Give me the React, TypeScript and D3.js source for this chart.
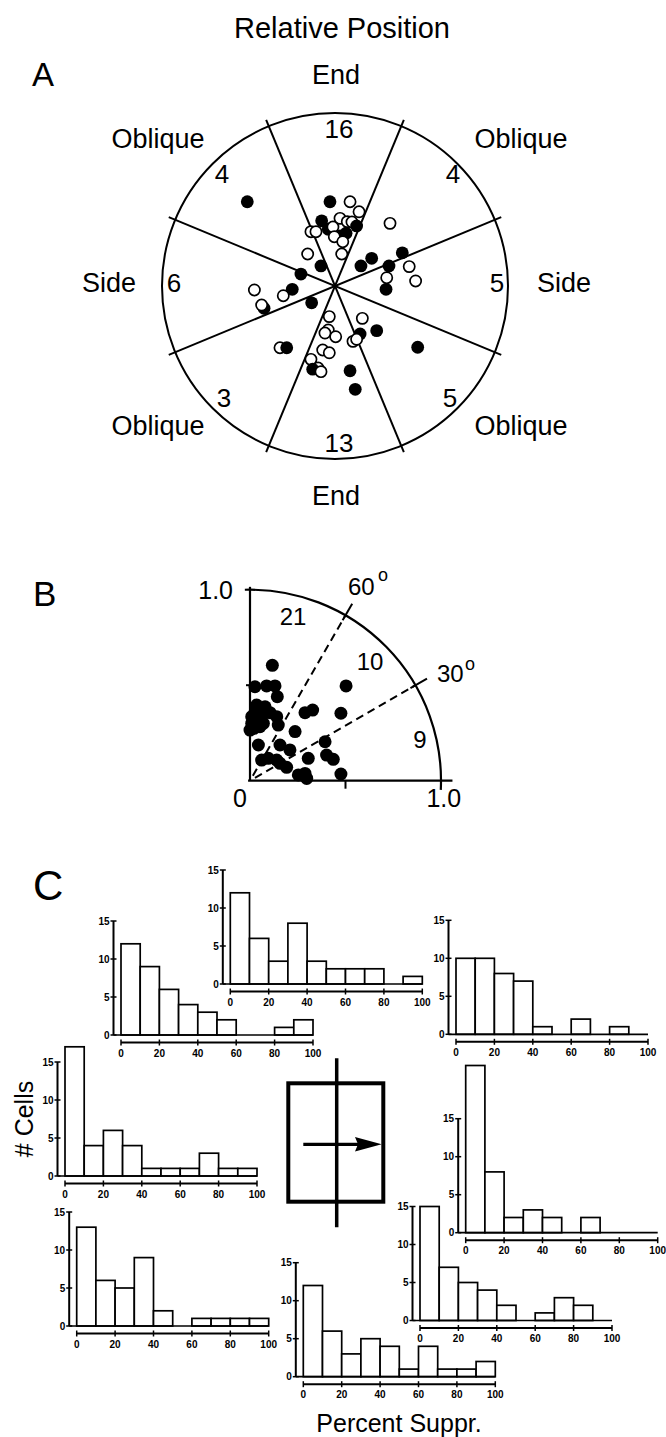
import * as d3 from 'd3'

const FONT = '"Liberation Sans", Arial, Helvetica, sans-serif'

// ---- Panel A: relative position ----
// sectors clockwise from the top
const sectorNames = ['End', 'Oblique', 'Side', 'Oblique', 'End', 'Oblique', 'Side', 'Oblique']
const sectorCounts = [16, 4, 5, 5, 13, 3, 6, 4]
const dividerAngles = [22.5, 67.5, 112.5, 157.5]

// [x, y, filled] in units of the circle radius, y up
const pointsA: [number, number, number][] = [
  [-0.507, 0.487, 1], [-0.029, 0.487, 1], [0.087, 0.487, 0], [0.139, 0.429, 0],
  [-0.077, 0.377, 1], [0.029, 0.391, 0], [0.071, 0.372, 0], [0.098, 0.37, 0],
  [-0.039, 0.328, 1], [0.125, 0.347, 1], [-0.012, 0.341, 0], [0.064, 0.305, 1],
  [-0.139, 0.314, 0], [-0.11, 0.314, 0], [0.029, 0.289, 1], [-0.004, 0.285, 0],
  [0.045, 0.256, 0], [0.039, 0.185, 0], [-0.158, 0.185, 0], [-0.081, 0.116, 1],
  [0.318, 0.362, 0], [0.15, 0.116, 1], [0.212, 0.16, 1], [0.312, 0.116, 1],
  [0.389, 0.192, 1], [0.429, 0.112, 0], [0.466, 0.029, 0], [0.299, 0.048, 0],
  [0.295, -0.019, 1], [-0.197, 0.069, 1], [-0.247, -0.019, 1], [-0.466, -0.023, 0],
  [-0.299, -0.056, 0], [-0.41, -0.129, 1], [-0.424, -0.11, 0], [-0.135, -0.097, 1],
  [-0.318, -0.357, 0], [-0.279, -0.357, 1], [-0.033, -0.177, 0], [-0.039, -0.254, 0],
  [-0.058, -0.272, 0], [0.004, -0.293, 0], [0.158, -0.187, 0], [0.145, -0.277, 1],
  [0.104, -0.32, 0], [0.125, -0.308, 0], [0.241, -0.258, 1], [0.478, -0.354, 1],
  [-0.071, -0.37, 0], [-0.033, -0.386, 0], [-0.139, -0.424, 0], [-0.098, -0.474, 0],
  [-0.129, -0.481, 1], [-0.081, -0.495, 0], [0.087, -0.49, 1], [0.117, -0.597, 1],
]

// ---- Panel B ----
const pointsB: [number, number][] = [
  [0.117, 0.604], [0.503, 0.496], [0.026, 0.492], [0.087, 0.496], [0.131, 0.496],
  [0.143, 0.44], [0.035, 0.396], [0.079, 0.387], [0.105, 0.356], [0.288, 0.356],
  [0.328, 0.37], [0.476, 0.353], [0.009, 0.3], [0.035, 0.318], [0.052, 0.283],
  [0.14, 0.335], [0.148, 0.291], [0.236, 0.257], [0.044, 0.187], [0.157, 0.187],
  [0.209, 0.161], [0.393, 0.204], [0.061, 0.108], [0.096, 0.117], [0.14, 0.108],
  [0.157, 0.091], [0.192, 0.07], [0.305, 0.117], [0.401, 0.134], [0.436, 0.112],
  [0.253, 0.03], [0.288, 0.038], [0.297, 0.012], [0.476, 0.035], [0.021, 0.274],
  [0.009, 0.335], [0.061, 0.335], [0.026, 0.361], [0.0, 0.265], [0.07, 0.3],
]
const wedgeAngles = [30, 60]
const wedgeCounts = [9, 10, 21]

// ---- Panel C: histograms, counts per 10% bin ----
const histTopLeft = [12, 9, 6, 4, 3, 2, 0, 0, 1, 2]
const histTopMid = [12, 6, 3, 8, 3, 2, 2, 2, 0, 1]
const histTopRight = [10, 10, 8, 7, 1, 0, 2, 0, 1, 0]
const histMidLeft = [17, 4, 6, 4, 1, 1, 1, 3, 1, 1]
const histMidRight = [22, 8, 2, 3, 2, 0, 2, 0, 0, 0]
const histLowLeft = [13, 6, 5, 9, 2, 0, 1, 1, 1, 1]
const histLowRight = [15, 7, 5, 4, 2, 0, 1, 3, 2, 0]
const histBottom = [12, 6, 3, 5, 4, 1, 4, 1, 1, 2]

// layout
const A_CX = 335, A_CY = 286, A_R = 173
const nameXY = [[336, 84], [521, 148], [564, 292], [521, 435], [336, 505], [158, 435], [109, 292], [158, 148]]
const countXY = [[339, 138], [453, 183], [497, 292], [450, 407], [339, 452], [224, 407], [174, 292], [222, 183]]

const B_X0 = 250, B_Y0 = 780.7, B_U = 191

const HIST_W = 192, HIST_H = 114
const histLayout: [number[], number, number][] = [
  [histTopLeft, 121, 1035],
  [histTopMid, 230.3, 984],
  [histTopRight, 456, 1034.3],
  [histMidLeft, 65, 1176],
  [histMidRight, 465.7, 1232.7],
  [histLowLeft, 76.7, 1326],
  [histLowRight, 420, 1320.5],
  [histBottom, 303.3, 1376.7],
]

function Histogram({ counts, x0, y0 }: { counts: number[]; x0: number; y0: number }) {
  const x = d3.scaleLinear().domain([0, 100]).range([x0, x0 + HIST_W])
  const y = d3.scaleLinear().domain([0, 15]).range([y0, y0 - HIST_H])
  const ax = x0 - 7.5
  const ay = y0 + 7.5
  return (
    <g>
      {counts.map((c, i) =>
        c > 0 ? (
          <rect
            key={i}
            x={x(i * 10)}
            y={y(c)}
            width={x(i * 10 + 10) - x(i * 10)}
            height={y(0) - y(c)}
            fill="white"
            stroke="black"
            strokeWidth={1.7}
          />
        ) : null
      )}
      <line x1={ax} x2={x(100)} y1={y(0)} y2={y(0)} stroke="black" strokeWidth={1.7} />
      {/* y axis */}
      <line x1={ax} x2={ax} y1={y(0)} y2={y(15)} stroke="black" strokeWidth={2} />
      {y.ticks(3).map(t => (
        <g key={t}>
          <line x1={ax - 3} x2={ax + 3} y1={y(t)} y2={y(t)} stroke="black" strokeWidth={1.5} />
          <text x={ax - 4} y={y(t)} dy="0.36em" textAnchor="end" fontSize={10} fontWeight="bold" fontFamily={FONT}>
            {t}
          </text>
        </g>
      ))}
      {/* x axis */}
      <line x1={x(0)} x2={x(100)} y1={ay} y2={ay} stroke="black" strokeWidth={2} />
      {x.ticks(5).map(t => (
        <g key={t}>
          <line x1={x(t)} x2={x(t)} y1={ay - 3} y2={ay + 3} stroke="black" strokeWidth={1.5} />
          <text x={x(t)} y={ay + 14} textAnchor="middle" fontSize={10} fontWeight="bold" fontFamily={FONT}>
            {t}
          </text>
        </g>
      ))}
    </g>
  )
}

export default function App() {
  // panel A scales
  const xA = d3.scaleLinear().domain([-1, 1]).range([A_CX - A_R, A_CX + A_R])
  const yA = d3.scaleLinear().domain([-1, 1]).range([A_CY + A_R, A_CY - A_R])
  const ext = 1.04

  // panel B scales
  const xB = d3.scaleLinear().domain([0, 1]).range([B_X0, B_X0 + B_U])
  const yB = d3.scaleLinear().domain([0, 1]).range([B_Y0, B_Y0 - B_U])
  const rB = xB(1) - xB(0)
  const arcPath = d3.path()
  arcPath.arc(xB(0), yB(0), rB, -Math.PI / 2 - 0.027, 0.048)
  const polar = (deg: number, r: number) => {
    const a = (deg * Math.PI) / 180
    return [xB(r * Math.cos(a)), yB(r * Math.sin(a))]
  }

  return (
    <svg
      width={666}
      height={1437}
      style={{ position: 'absolute', left: 0, top: 0, background: 'white' }}
      fontFamily={FONT}
    >
      <rect width={666} height={1437} fill="white" />

      {/* ===== A ===== */}
      <text x={342} y={38} textAnchor="middle" fontSize={29}>Relative Position</text>
      <text x={32} y={86} fontSize={33}>A</text>

      <circle cx={xA(0)} cy={yA(0)} r={A_R} fill="none" stroke="black" strokeWidth={2} />
      {dividerAngles.map(d => {
        const a = (d * Math.PI) / 180
        return (
          <line
            key={d}
            x1={xA(ext * Math.cos(a))}
            y1={yA(ext * Math.sin(a))}
            x2={xA(-ext * Math.cos(a))}
            y2={yA(-ext * Math.sin(a))}
            stroke="black"
            strokeWidth={2}
          />
        )
      })}
      {sectorNames.map((n, i) => (
        <text key={'n' + i} x={nameXY[i][0]} y={nameXY[i][1]} textAnchor="middle" fontSize={27}>
          {n}
        </text>
      ))}
      {sectorCounts.map((c, i) => (
        <text key={'c' + i} x={countXY[i][0]} y={countXY[i][1]} textAnchor="middle" fontSize={26}>
          {c}
        </text>
      ))}
      {pointsA.map((p, i) => (
        <circle
          key={'a' + i}
          cx={xA(p[0])}
          cy={yA(p[1])}
          r={p[2] ? 6.4 : 5.6}
          fill={p[2] ? 'black' : 'white'}
          stroke="black"
          strokeWidth={p[2] ? 0 : 1.7}
        />
      ))}

      {/* ===== B ===== */}
      <text x={33} y={606} fontSize={35}>B</text>
      <path d={arcPath.toString()} fill="none" stroke="black" strokeWidth={2.2} />
      <line x1={xB(0)} x2={xB(0)} y1={yB(0)} y2={yB(1.015)} stroke="black" strokeWidth={2.2} />
      <line x1={xB(-0.01)} x2={xB(1.06)} y1={yB(0)} y2={yB(0)} stroke="black" strokeWidth={2.2} />
      <line x1={xB(0) - 4} x2={xB(0)} y1={yB(0.5)} y2={yB(0.5)} stroke="black" strokeWidth={2} />
      <line x1={xB(0.5)} x2={xB(0.5)} y1={yB(0)} y2={yB(0) + 8} stroke="black" strokeWidth={2} />
      {wedgeAngles.map(a => {
        const [x1, y1] = polar(a, 0.03)
        const [x2, y2] = polar(a, 1)
        const [t1x, t1y] = polar(a, 0.97)
        const [t2x, t2y] = polar(a, 1.07)
        return (
          <g key={a}>
            <line x1={x1} y1={y1} x2={x2} y2={y2} stroke="black" strokeWidth={2} strokeDasharray="8,5" />
            <line x1={t1x} y1={t1y} x2={t2x} y2={t2y} stroke="black" strokeWidth={2} />
          </g>
        )
      })}
      {pointsB.map((p, i) => (
        <circle key={'b' + i} cx={xB(p[0])} cy={yB(p[1])} r={6.5} fill="black" />
      ))}
      <text x={xB(0) - 17} y={yB(1)} dy="0.36em" textAnchor="end" fontSize={25}>1.0</text>
      <text x={xB(0) - 10} y={yB(0) + 26} textAnchor="middle" fontSize={25}>0</text>
      <text x={xB(1.015)} y={yB(0) + 26} textAnchor="middle" fontSize={25}>1.0</text>
      <text x={348} y={595} fontSize={24}>{wedgeAngles[1]}</text>
      <text x={378} y={581} fontSize={18}>o</text>
      <text x={437} y={682} fontSize={24}>{wedgeAngles[0]}</text>
      <text x={465} y={670} fontSize={18}>o</text>
      <text x={420} y={748} textAnchor="middle" fontSize={24}>{wedgeCounts[0]}</text>
      <text x={370} y={670} textAnchor="middle" fontSize={24}>{wedgeCounts[1]}</text>
      <text x={293} y={625} textAnchor="middle" fontSize={24}>{wedgeCounts[2]}</text>

      {/* ===== C ===== */}
      <text x={33} y={900} fontSize={42}>C</text>
      {histLayout.map(([counts, x0, y0], i) => (
        <Histogram key={i} counts={counts} x0={x0} y0={y0} />
      ))}

      {/* stimulus icon */}
      <rect x={288.3} y={1083.3} width={95} height={118.4} fill="none" stroke="black" strokeWidth={4} />
      <line x1={336.7} x2={336.7} y1={1058.3} y2={1227.3} stroke="black" strokeWidth={3.5} />
      <line x1={303.3} x2={362} y1={1144.3} y2={1144.3} stroke="black" strokeWidth={3.2} />
      <path d="M381.7,1144.3 L355,1137 L358,1144.3 L355,1151.6 Z" fill="black" />

      <text transform="translate(33,1119) rotate(-90)" textAnchor="middle" fontSize={25}># Cells</text>
      <text x={399} y={1432} textAnchor="middle" fontSize={25}>Percent Suppr.</text>
    </svg>
  )
}
